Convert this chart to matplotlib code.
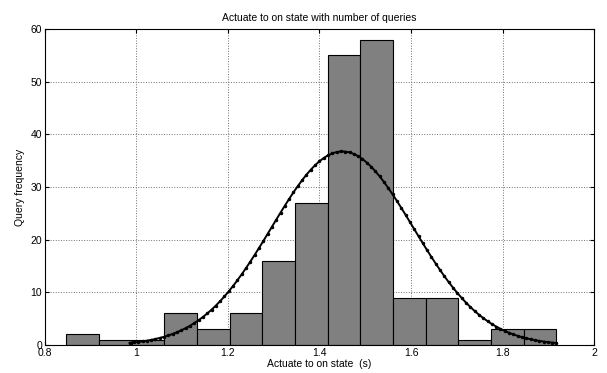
import numpy as np
import matplotlib
matplotlib.use("Agg")
import matplotlib.pyplot as plt

# Histogram data
bin_start = 0.847
bin_end = 1.918
counts = [2, 1, 1, 6, 3, 6, 16, 27, 55, 58, 9, 9, 1, 3, 3]

# Normal fit parameters (histfit-style)
fit_mu = 1.45
fit_sigma = 0.155
fit_range = (0.985, 1.918)

xticks = [0.8, 1.0, 1.2, 1.4, 1.6, 1.8, 2.0]
xticklabels = ["0.8", "1", "1.2", "1.4", "1.6", "1.8", "2"]
yticks = [0, 10, 20, 30, 40, 50, 60]

plt.rcParams['font.family'] = ['Liberation Sans', 'DejaVu Sans']

fig = plt.figure(figsize=(6.07, 3.73), dpi=100)
ax = fig.add_axes([0.0741, 0.0751, 0.9045, 0.8472])

nb = len(counts)
edges = np.linspace(bin_start, bin_end, nb + 1)
width = edges[1] - edges[0]
ax.bar(edges[:-1], counts, width=width, align='edge', color='#808080',
       edgecolor='black', linewidth=0.8, zorder=2)

n = sum(counts)
xc = np.linspace(fit_range[0], fit_range[1], 100)
yc = n * width * np.exp(-(xc - fit_mu) ** 2 / (2 * fit_sigma ** 2)) / (fit_sigma * np.sqrt(2 * np.pi))
ax.plot(xc, yc, color='black', linewidth=1.4, marker='.', markersize=3, zorder=3)

ax.set_xlim(0.8, 2.0)
ax.set_ylim(0, 60)
ax.set_xticks(xticks)
ax.set_xticklabels(xticklabels)
ax.set_yticks(yticks)
ax.tick_params(direction='in', labelsize=7.5, length=3, top=True, right=True,
               labeltop=False, labelright=False, pad=2)
ax.grid(True, linestyle=':', color='#707070', linewidth=0.7, zorder=0)
ax.set_axisbelow(True)
for s in ax.spines.values():
    s.set_linewidth(0.8)

ax.set_title("Actuate to on state with number of queries", fontsize=7.5, pad=6)
ax.set_xlabel("Actuate to on state  (s)", fontsize=7.5, labelpad=1)
ax.set_ylabel("Query frequency", fontsize=7.5, labelpad=4)

fig.savefig("out.png", dpi=100)
